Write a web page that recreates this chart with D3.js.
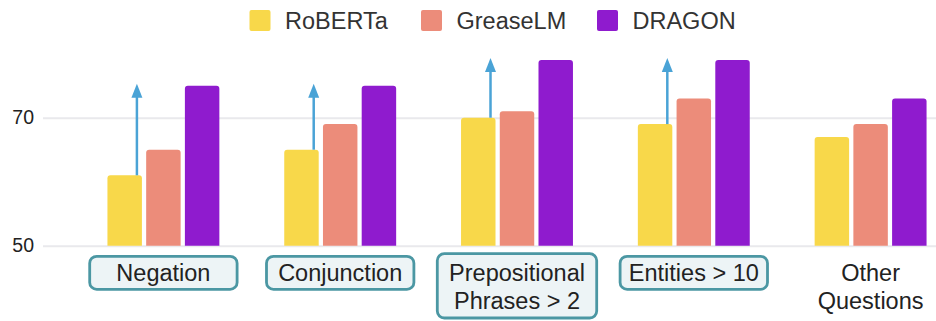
<!DOCTYPE html>
<html>
<head>
<meta charset="utf-8">
<script src="https://cdn.jsdelivr.net/npm/d3@7"></script>
<style>
  html, body { margin: 0; padding: 0; background: #fff; }
  svg { display: block; font-family: "Liberation Sans", Arial, Helvetica, sans-serif; }
</style>
</head>
<body>
<svg id="chart" width="936" height="321"></svg>
<script>
// Accuracy by question type for three models
const categories = ["Negation", "Conjunction", "Prepositional\nPhrases > 2", "Entities > 10", "Other\nQuestions"];
const models = ["RoBERTa", "GreaseLM", "DRAGON"];
const roberta = [61, 65, 70, 69, 67];
const greaselm = [65, 69, 71, 73, 69];
const dragon = [75, 75, 79, 79, 73];
const highlighted = [true, true, true, true, false];   // categories framed with a box and an improvement arrow
const yTicks = [50, 70];

const seriesValues = [roberta, greaselm, dragon];
const colors = ["#f8d84a", "#ec8c7a", "#8f1bce"];

const W = 936, H = 321;
const svg = d3.select("#chart");

const y = d3.scaleLinear().domain([50, 80]).range([245.7, 53.7]);

const x0 = d3.scaleBand().domain(categories).range([75, 959]).paddingInner(0.367).paddingOuter(0.1835);
const x1 = d3.scaleBand().domain(models).range([0, x0.bandwidth()]).paddingInner(0.11);

// Gridlines and y-axis labels
const yAxis = d3.axisLeft(y).tickValues(yTicks).tickSize(-(W - 43)).tickPadding(9);
const gy = svg.append("g").attr("transform", "translate(43,0)").call(yAxis);
gy.select(".domain").remove();
gy.selectAll(".tick line").attr("stroke", "#e9e9ec").attr("stroke-width", 2);
gy.selectAll(".tick text")
  .attr("fill", "#222")
  .attr("font-size", "19.5px")
  .attr("font-family", "'Liberation Sans', Arial, sans-serif");

// Bar with rounded top corners
function topRoundedBar(x, yTop, w, yBase, r) {
  r = Math.min(r, w / 2, (yBase - yTop));
  return `M${x},${yBase}V${yTop + r}Q${x},${yTop} ${x + r},${yTop}H${x + w - r}Q${x + w},${yTop} ${x + w},${yTop + r}V${yBase}Z`;
}

const groups = svg.append("g").selectAll("g")
  .data(categories)
  .join("g")
  .attr("transform", d => `translate(${x0(d)},0)`);

groups.selectAll("path.bar")
  .data((d, i) => models.map((m, k) => ({ model: m, value: seriesValues[k][i], color: colors[k] })))
  .join("path")
  .attr("class", "bar")
  .attr("d", d => topRoundedBar(x1(d.model), y(d.value), x1.bandwidth(), y(50), 3))
  .attr("fill", d => d.color);

// Improvement arrows: from RoBERTa up to DRAGON
const arrowColor = "#4aa3d6";
groups.each(function (d, i) {
  if (!highlighted[i]) return;
  const g = d3.select(this);
  const ax = x1("RoBERTa") + x1.bandwidth() - 5;
  const yStart = y(roberta[i]);
  const yTip = y(dragon[i]) - 2;
  const headH = 14, headW = 11;
  g.append("line")
    .attr("x1", ax).attr("x2", ax)
    .attr("y1", yStart).attr("y2", yTip + headH - 1)
    .attr("stroke", arrowColor).attr("stroke-width", 2.5);
  g.append("path")
    .attr("d", `M${ax},${yTip}L${ax + headW / 2},${yTip + headH}L${ax - headW / 2},${yTip + headH}Z`)
    .attr("fill", arrowColor);
});

// Category labels
const lineH = 28.3;
groups.each(function (d, i) {
  const g = d3.select(this);
  const cx = x0.bandwidth() / 2;
  const lines = d.split("\n");
  if (highlighted[i]) {
    const bw = lines.length > 1 ? 162 : 150;
    const top = lines.length > 1 ? 252.3 : 255;
    const bh = lines.length > 1 ? 67 : 35.7;
    g.append("rect")
      .attr("x", cx - bw / 2 + 1.3).attr("y", top + 1.3)
      .attr("width", bw - 2.6).attr("height", bh - 2.6)
      .attr("rx", 7).attr("ry", 7)
      .attr("fill", "#edf4f6")
      .attr("stroke", "#4b97a3").attr("stroke-width", 2.8);
  }
  const t = g.append("text")
    .attr("text-anchor", "middle")
    .attr("fill", "#222")
    .attr("font-size", "23.5px");
  lines.forEach((ln, k) => {
    t.append("tspan").attr("x", cx).attr("y", 281 + k * lineH).text(ln);
  });
});

// Legend
const legendX = [249.5, 421, 597];
const legend = svg.append("g");
models.forEach((m, k) => {
  legend.append("rect")
    .attr("x", legendX[k]).attr("y", 10)
    .attr("width", 21).attr("height", 21)
    .attr("rx", 2)
    .attr("fill", colors[k]);
  legend.append("text")
    .attr("x", legendX[k] + 35.5).attr("y", 29)
    .attr("fill", "#333")
    .attr("font-size", "23.5px")
    .text(m);
});
</script>
</body>
</html>
